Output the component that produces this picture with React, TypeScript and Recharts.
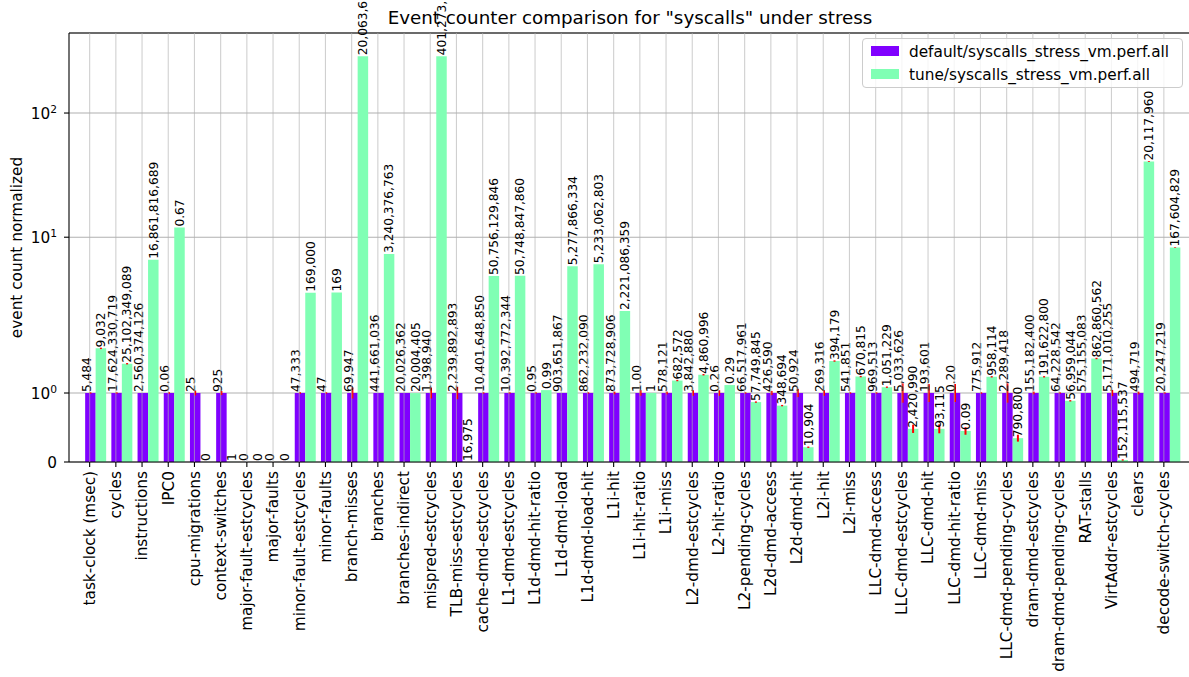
import React from "react";
import {
  BarChart,
  Bar,
  XAxis,
  YAxis,
  CartesianGrid,
  ErrorBar,
  LabelList,
  Legend,
  ReferenceLine,
} from "recharts";

const categories = [
  "task-clock (msec)", "cycles", "instructions", "IPC0", "cpu-migrations",
  "context-switches", "major-fault-estcycles", "major-faults", "minor-fault-estcycles",
  "minor-faults", "branch-misses", "branches", "branches-indirect", "mispred-estcycles",
  "TLB-miss-estcycles", "cache-dmd-estcycles", "L1-dmd-estcycles", "L1d-dmd-hit-ratio",
  "L1d-dmd-load", "L1d-dmd-load-hit", "L1i-hit", "L1i-hit-ratio", "L1i-miss",
  "L2-dmd-estcycles", "L2-hit-ratio", "L2-pending-cycles", "L2d-dmd-access",
  "L2d-dmd-hit", "L2i-hit", "L2i-miss", "LLC-dmd-access", "LLC-dmd-estcycles",
  "LLC-dmd-hit", "LLC-dmd-hit-ratio", "LLC-dmd-miss", "LLC-dmd-pending-cycles",
  "dram-dmd-estcycles", "dram-dmd-pending-cycles", "RAT-stalls", "VirtAddr-estcycles",
  "clears", "decode-switch-cycles",
];

// raw event counts per run
const defaultCounts = [
  5484, 17624330719, 2560374126, 0.056, 25,
  925, 0, 0, 47333,
  47, 69947, 441661036, 20026362, 1398940,
  2239892893, 10401648850, 10392772344, 0.95,
  903651867, 862232090, 873728906, 0.999, 578121,
  3842880, 0.26, 66517961, 426590,
  50924, 269316, 541851, 969513, 5033626,
  193601, 0.2, 775912, 2289418,
  155182400, 64228542, 575155083, 5171010255,
  494719, 20247219,
];

const tuneCounts = [
  9032, 25102349089, 16861816689, 0.67, 0,
  1, 0, 0, 169000,
  169, 20063612, 3240376763, 20004405, 401273520,
  16975, 50756129846, 50748847860, 0.99,
  5277866334, 5233062803, 2221086359, 1, 682572,
  4860996, 0.29, 57749845, 348694,
  10904, 394179, 670815, 1051229, 2420990,
  93115, 0.09, 958114, 790800,
  191622800, 56959044, 862860562, 152115537,
  20117960, 167604829,
];

// spread of the normalized values
const defaultErr = [
  0.01, 0.01, 0, 0.01, 0.035,
  0.03, 0, 0, 0.01,
  0.01, 0.08, 0, 0, 0.08,
  0.09, 0.01, 0.01, 0.01,
  0, 0.01, 0.02, 0.04, 0.02,
  0.04, 0.04, 0.01, 0.03,
  0.06, 0.04, 0.01, 0.01, 0.14,
  0.13, 0.13, 0.01, 0.14,
  0.02, 0.01, 0, 0.045,
  0.02, 0.01,
];

const tuneErr = [
  0.01, 0.01, 0, 0, 0,
  0, 0, 0, 0,
  0, 0, 0, 0, 0,
  0, 0, 0, 0,
  0, 0, 0, 0, 0.01,
  0.01, 0, 0.01, 0.01,
  0.01, 0.01, 0.01, 0.01, 0.06,
  0.065, 0.055, 0.01, 0.05,
  0.01, 0.01, 0.01, 0.01,
  0.3, 0.05,
];

const yTicks = [0, 1, 10, 100];
const seriesNames = ["default/syscalls_stress_vm.perf.all", "tune/syscalls_stress_vm.perf.all"];
const title = 'Event counter comparison for "syscalls" under stress';
const yLabel = "event count normalized";

const PURPLE = "#8000ff";
const GREEN = "#80ffb4";
const GRID = "#b0b0b0";
const FONT = '"DejaVu Sans", Verdana, sans-serif';

const W = 1196;
const H = 677;
const PLOT_TOP = 33;
const PLOT_BOTTOM = 462;
const PLOT_LEFT = 69;
const BAR_W = 10.5;
const TICK_SHIFT = -5.6;
const Y_MAX = 441;

const data = categories.map((name, i) => {
  const d = defaultCounts[i];
  const t = tuneCounts[i];
  return {
    name,
    def: d > 0 ? 1 : 0,
    tune: d > 0 ? t / d : 0,
    defErr: defaultErr[i],
    tuneErr: tuneErr[i],
    defRaw: d,
    tuneRaw: t,
  };
});

const fmt = (v: number) => (Number.isInteger(v) ? v.toLocaleString("en-US") : v.toFixed(2));

// symmetric log scale: linear up to linthresh, log10 beyond
function symlog(linthresh = 2, linscale = 1): any {
  const k = linscale / (1 - 1 / 10);
  const fwd = (v: number) => {
    const a = Math.abs(v);
    const t = a <= linthresh ? a * k : linthresh * (k + Math.log10(a / linthresh));
    return v < 0 ? -t : t;
  };
  const inv = (t: number) => {
    const a = Math.abs(t);
    const v = a <= linthresh * k ? a / k : linthresh * Math.pow(10, a / linthresh - k);
    return t < 0 ? -v : v;
  };
  let dom = [0, 1];
  let rng = [0, 1];
  const scale: any = (v: number) => {
    const t0 = fwd(dom[0]);
    const t1 = fwd(dom[1]);
    return rng[0] + ((fwd(v) - t0) / (t1 - t0)) * (rng[1] - rng[0]);
  };
  scale.domain = (d?: number[]) => {
    if (!d) return dom.slice();
    dom = d.map(Number);
    return scale;
  };
  scale.range = (r?: number[]) => {
    if (!r) return rng.slice();
    rng = r.map(Number);
    return scale;
  };
  scale.invert = (p: number) => {
    const t0 = fwd(dom[0]);
    const t1 = fwd(dom[1]);
    return inv(t0 + ((p - rng[0]) / (rng[1] - rng[0])) * (t1 - t0));
  };
  scale.copy = () => symlog(linthresh, linscale).domain(dom).range(rng);
  scale.ticks = () => yTicks;
  scale.nice = () => scale;
  scale.clamp = () => scale;
  return scale;
}

const barLabel = (dx: number) => (props: any) => {
  const vb = props.viewBox ?? props;
  const cx = vb.x + vb.width / 2 + dx;
  const top = Math.min(vb.y, vb.y + vb.height) - 1;
  return (
    <text
      x={cx}
      y={top}
      dy="0.35em"
      transform={`rotate(-90, ${cx}, ${top})`}
      textAnchor="start"
      fontSize={12.2}
      fontFamily={FONT}
      fill="#000"
    >
      {fmt(Number(props.value))}
    </text>
  );
};

const XTick = (props: any) => {
  const x = props.x + TICK_SHIFT;
  const ty = PLOT_BOTTOM + 9;
  return (
    <g>
      <line x1={x} x2={x} y1={PLOT_TOP} y2={PLOT_BOTTOM} stroke={GRID} strokeOpacity={0.6} strokeWidth={1.1} />
      <line x1={x} x2={x} y1={PLOT_BOTTOM} y2={PLOT_BOTTOM + 5} stroke="#000" strokeWidth={1.1} />
      <text
        x={x}
        y={ty}
        dy="0.35em"
        transform={`rotate(-90, ${x}, ${ty})`}
        textAnchor="end"
        fontSize={15.3}
        fontFamily={FONT}
        fill="#000"
      >
        {props.payload.value}
      </text>
    </g>
  );
};

const YTick = (props: any) => {
  const { x, y, payload } = props;
  const v = Number(payload.value);
  if (v === 0) {
    return (
      <text x={x} y={y + 5.5} textAnchor="end" fontSize={15.3} fontFamily={FONT} fill="#000">
        0
      </text>
    );
  }
  return (
    <text x={x} y={y + 5.5} textAnchor="end" fontSize={15.3} fontFamily={FONT} fill="#000">
      <tspan>10</tspan>
      <tspan dy={-6} fontSize={10.7}>
        {Math.round(Math.log10(v))}
      </tspan>
    </text>
  );
};

const LegendBox = () => (
  <div
    style={{
      width: 321,
      height: 50,
      boxSizing: "border-box",
      border: "1px solid #cccccc",
      borderRadius: 4,
      background: "rgba(255,255,255,0.8)",
    }}
  >
    <svg width={319} height={48} style={{ display: "block" }}>
      {seriesNames.map((n, i) => (
        <g key={n}>
          <rect x={8} y={7 + i * 23} width={28} height={10} fill={i === 0 ? PURPLE : GREEN} />
          <text x={46} y={17.5 + i * 23} fontSize={15.3} fontFamily={FONT} fill="#000">
            {n}
          </text>
        </g>
      ))}
    </svg>
  </div>
);

export default function App() {
  return (
    <div style={{ position: "absolute", left: 0, top: 0, width: 1189, height: 677, overflow: "hidden", background: "#fff" }}>
      <BarChart
        width={W}
        height={H}
        data={data}
        margin={{ top: PLOT_TOP, right: 0, bottom: 0, left: 0 }}
        barGap={0}
        barCategoryGap={0}
      >
        <CartesianGrid vertical={false} stroke={GRID} strokeWidth={1.1} />
        <Bar dataKey="def" fill={PURPLE} barSize={BAR_W} minPointSize={0.01} isAnimationActive={false}>
          <ErrorBar dataKey="defErr" width={0} strokeWidth={2} stroke="#ff0000" direction="y" />
          <LabelList dataKey="defRaw" content={barLabel(-4)} />
        </Bar>
        <Bar dataKey="tune" fill={GREEN} barSize={BAR_W} minPointSize={0.01} isAnimationActive={false}>
          <ErrorBar dataKey="tuneErr" width={0} strokeWidth={2} stroke="#ff0000" direction="y" />
          <LabelList dataKey="tuneRaw" content={barLabel(0)} />
        </Bar>
        <XAxis
          dataKey="name"
          interval={0}
          height={H - PLOT_BOTTOM}
          padding={{ left: 13.15, right: 13.45 }}
          tick={<XTick />}
          tickLine={false}
          axisLine={{ stroke: "#000", strokeWidth: 1.1 }}
        />
        <YAxis
          type="number"
          scale={symlog(2, 1)}
          domain={[0, Y_MAX]}
          ticks={yTicks}
          interval={0}
          width={PLOT_LEFT}
          tickSize={5}
          tickMargin={7}
          tick={<YTick />}
          tickLine={{ stroke: "#000", strokeWidth: 1.1 }}
          axisLine={{ stroke: "#000", strokeWidth: 1.1 }}
          allowDataOverflow
        />
        <ReferenceLine y={Y_MAX} stroke="#000" strokeWidth={1.1} ifOverflow="visible" />
        <Legend
          layout="horizontal"
          verticalAlign="middle"
          align="center"
          wrapperStyle={{ top: 38, left: 862, width: 321, height: 50 }}
          content={() => <LegendBox />}
        />
      </BarChart>
      <svg
        width={1189}
        height={677}
        style={{ position: "absolute", left: 0, top: 0, pointerEvents: "none" }}
      >
        <text x={630} y={24} textAnchor="middle" fontSize={18.3} fontFamily={FONT} fill="#000">
          {title}
        </text>
        <text
          x={17}
          y={(PLOT_TOP + PLOT_BOTTOM) / 2}
          dy="0.35em"
          transform={`rotate(-90, 17, ${(PLOT_TOP + PLOT_BOTTOM) / 2})`}
          textAnchor="middle"
          fontSize={15.3}
          fontFamily={FONT}
          fill="#000"
        >
          {yLabel}
        </text>
      </svg>
    </div>
  );
}
